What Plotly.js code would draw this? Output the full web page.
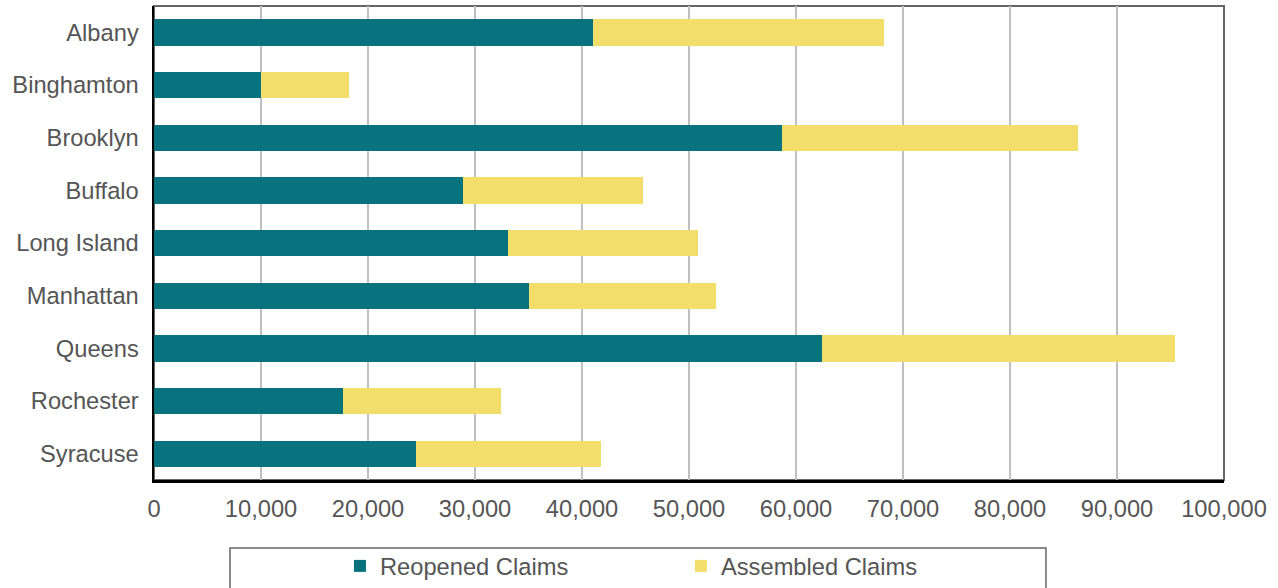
<!DOCTYPE html>
<html>
<head>
<meta charset="utf-8">
<script src="https://cdn.plot.ly/plotly-3.0.1.min.js"></script>
<style>html,body{margin:0;padding:0;background:#fff;}#chart{width:1278px;height:588px;}</style>
</head>
<body>
<div id="chart"></div>
<script>
const offices = ["Albany", "Binghamton", "Brooklyn", "Buffalo", "Long Island", "Manhattan", "Queens", "Rochester", "Syracuse"];
const reopenedClaims = [41000, 10000, 58700, 28900, 33100, 35000, 62400, 17700, 24500];
const assembledClaims = [27200, 8200, 27700, 16800, 17700, 17500, 33000, 14700, 17300];
const xTickValues = [0, 10000, 20000, 30000, 40000, 50000, 60000, 70000, 80000, 90000, 100000];
const xTickLabels = ["0", "10,000", "20,000", "30,000", "40,000", "50,000", "60,000", "70,000", "80,000", "90,000", "100,000"];

const fontFam = "Liberation Sans, Arial, sans-serif";
const traces = [
  {type: "bar", orientation: "h", name: "Reopened Claims", y: offices, x: reopenedClaims,
   marker: {color: "#06737E"}, hoverinfo: "x+y"},
  {type: "bar", orientation: "h", name: "Assembled Claims", y: offices, x: assembledClaims,
   marker: {color: "#F3DD6B"}, hoverinfo: "x+y"}
];
const layout = {
  width: 1278, height: 588,
  margin: {l: 154, r: 54, t: 6, b: 108, autoexpand: false},
  barmode: "stack", bargap: 0.5,
  paper_bgcolor: "#fff", plot_bgcolor: "#fff",
  font: {family: fontFam, size: 23.7, color: "#555"},
  xaxis: {range: [0, 100000], tickvals: xTickValues, ticktext: xTickLabels,
    showgrid: true, gridcolor: "#c0c0c0", gridwidth: 2, zeroline: false,
    showline: true, linecolor: "#000", linewidth: 2.5, ticks: "", ticklabelstandoff: 6,
    tickfont: {family: fontFam, size: 23.7, color: "#555"}, fixedrange: true},
  yaxis: {autorange: "reversed", showgrid: false, zeroline: false,
    showline: true, linecolor: "#000", linewidth: 2.5, ticks: "", ticklabelstandoff: 8,
    tickfont: {family: fontFam, size: 23.7, color: "#555"}, fixedrange: true},
  showlegend: true,
  legend: {orientation: "h", x: 0.1738, xanchor: "left", y: -0.135, yanchor: "top",
    entrywidth: 296, entrywidthmode: "pixels", traceorder: "normal",
    font: {family: fontFam, size: 23.7, color: "#555"}, bgcolor: "rgba(0,0,0,0)", borderwidth: 0},
  shapes: [
    {type: "rect", xref: "paper", yref: "paper", x0: 0, x1: 1, y0: 0, y1: 1,
     line: {color: "#666", width: 2}, fillcolor: "rgba(0,0,0,0)", layer: "below"},
    {type: "rect", xref: "paper", yref: "paper", x0: 0.0710, x1: 0.8336, y0: -0.1435, y1: -0.30,
     line: {color: "#666", width: 1.5}, fillcolor: "rgba(0,0,0,0)", layer: "above"}
  ]
};
Plotly.newPlot("chart", traces, layout, {displayModeBar: false, staticPlot: true});
</script>
</body>
</html>
